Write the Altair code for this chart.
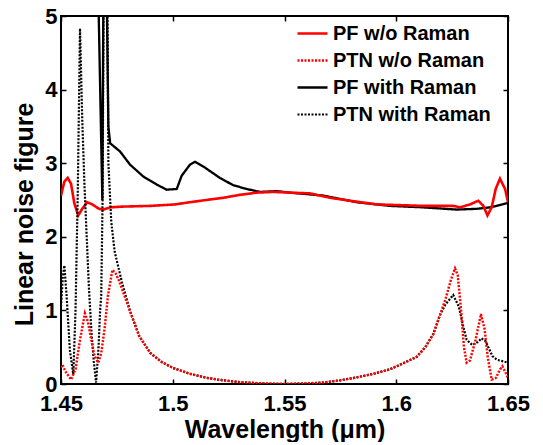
import altair as alt
import pandas as pd

# ---------------- data ----------------
series_names = ["PF w/o Raman", "PTN w/o Raman", "PF with Raman", "PTN with Raman"]

# PF w/o Raman (red solid)
pf_wo_wl = [1.45, 1.4515, 1.453, 1.4545, 1.456, 1.4577, 1.4595, 1.4617, 1.464, 1.467,
            1.4689, 1.472, 1.4772, 1.49, 1.501, 1.5077, 1.515, 1.5226, 1.53, 1.5376,
            1.545, 1.5525, 1.5614, 1.5704, 1.5793, 1.5913, 1.6121, 1.6255, 1.6285, 1.633,
            1.6367, 1.639, 1.6408, 1.6427, 1.6445, 1.6464, 1.6487, 1.65]
pf_wo_nf = [2.56, 2.75, 2.80, 2.72, 2.45, 2.29, 2.38, 2.47, 2.44, 2.38,
            2.37, 2.40, 2.41, 2.42, 2.44, 2.47, 2.50, 2.53, 2.57, 2.60,
            2.61, 2.60, 2.59, 2.53, 2.49, 2.44, 2.42, 2.42, 2.40, 2.44,
            2.49, 2.42, 2.29, 2.40, 2.65, 2.79, 2.65, 2.47]

# PF with Raman (black solid)
pf_with_wl = [1.45, 1.458, 1.4665, 1.4685, 1.469, 1.4705, 1.4712, 1.472, 1.4764, 1.4809,
              1.4868, 1.4928, 1.4973, 1.5018, 1.504, 1.5077, 1.51, 1.5144, 1.5211, 1.5271,
              1.5331, 1.539, 1.5465, 1.5525, 1.5674, 1.5823, 1.5972, 1.6121, 1.627, 1.636,
              1.642, 1.65]
pf_with_nf = [9.0, 10.0, 5.6, 2.5, 5.5, 5.2, 3.5, 3.27, 3.16, 2.98,
              2.82, 2.71, 2.64, 2.65, 2.83, 2.98, 3.02, 2.94, 2.80, 2.70,
              2.65, 2.61, 2.62, 2.60, 2.56, 2.47, 2.42, 2.40, 2.37, 2.38,
              2.40, 2.46]

# common middle part of both PTN curves
ptn_mid_wl = [1.485, 1.49, 1.495, 1.50, 1.5075, 1.515, 1.52, 1.53, 1.54, 1.55,
              1.56, 1.5674, 1.575, 1.5823, 1.59, 1.5972, 1.603, 1.6092, 1.613, 1.6166,
              1.6196]
ptn_mid_nf = [0.65, 0.42, 0.30, 0.22, 0.14, 0.085, 0.06, 0.025, 0.008, 0.0,
              0.008, 0.02, 0.05, 0.09, 0.14, 0.20, 0.28, 0.37, 0.50, 0.68,
              0.94]

# PTN w/o Raman (red dotted)
ptn_wo_head_wl = [1.45, 1.4507, 1.452, 1.4545, 1.4565, 1.4585, 1.4607, 1.462, 1.4637, 1.465,
                  1.4667, 1.468, 1.4695, 1.471, 1.473, 1.4745, 1.476, 1.4772, 1.481]
ptn_wo_head_nf = [0.22, 0.26, 0.17, 0.06, 0.20, 0.60, 0.96, 0.85, 0.58, 0.38,
                  0.29, 0.42, 0.75, 1.20, 1.55, 1.50, 1.40, 1.30, 0.98]
ptn_wo_tail_wl = [1.622, 1.6245, 1.6263, 1.6275, 1.629, 1.6303, 1.6315, 1.633, 1.6355, 1.6379,
                  1.6395, 1.641, 1.6427, 1.6445, 1.6465, 1.6475, 1.649, 1.65]
ptn_wo_tail_nf = [1.15, 1.42, 1.57, 1.48, 1.00, 0.50, 0.29, 0.32, 0.60, 0.95,
                  0.75, 0.35, 0.06, 0.08, 0.20, 0.24, 0.15, 0.08]

# PTN with Raman (black dotted)
ptn_with_head_wl = [1.45, 1.4508, 1.4515, 1.4525, 1.454, 1.4555, 1.4565, 1.4575, 1.4585, 1.4595,
                    1.4605, 1.4615, 1.4625, 1.4637, 1.4647, 1.4657, 1.4668, 1.4675, 1.468, 1.4686,
                    1.4692, 1.470, 1.4706, 1.4712, 1.4725, 1.474, 1.4772, 1.481]
ptn_with_head_nf = [1.05, 1.45, 1.61, 1.20, 0.45, 0.13, 1.0, 2.6, 4.83, 3.6,
                    2.7, 2.0, 1.3, 0.67, 0.30, 0.02, 0.50, 1.00, 1.20, 2.50,
                    6.0, 20.0, 6.0, 3.0, 2.2, 1.8, 1.39, 0.98]
ptn_with_tail_wl = [1.622, 1.6255, 1.628, 1.630, 1.6315, 1.634, 1.6365, 1.6382, 1.640, 1.6415,
                    1.643, 1.645, 1.6475, 1.65]
ptn_with_tail_nf = [1.08, 1.21, 1.05, 0.78, 0.60, 0.53, 0.57, 0.62, 0.58, 0.48,
                    0.38, 0.33, 0.31, 0.29]

x_ticks = [1.45, 1.5, 1.55, 1.6, 1.65]
y_ticks = [0, 1, 2, 3, 4, 5]

# ---------------- table ----------------
curves = [
    ("PF with Raman", pf_with_wl, pf_with_nf),
    ("PF w/o Raman", pf_wo_wl, pf_wo_nf),
    ("PTN with Raman", ptn_with_head_wl + ptn_mid_wl + ptn_with_tail_wl,
     ptn_with_head_nf + ptn_mid_nf + ptn_with_tail_nf),
    ("PTN w/o Raman", ptn_wo_head_wl + ptn_mid_wl + ptn_wo_tail_wl,
     ptn_wo_head_nf + ptn_mid_nf + ptn_wo_tail_nf),
]
rows = []
for name, xs_, ys_ in curves:
    for i, (a, b) in enumerate(zip(xs_, ys_)):
        rows.append({"series": name, "wl": a, "nf": b, "ord": i})
df = pd.DataFrame(rows)

FONT = "Liberation Sans"
xscale = alt.Scale(domain=[1.45, 1.65], nice=False, zero=False)
yscale = alt.Scale(domain=[0, 5], nice=False, zero=False)

common_axis = dict(domain=False, grid=False, offset=-5, tickSize=5, tickWidth=1.5,
                   tickColor="black", labelColor="black", titleColor="black",
                   labelFont=FONT, titleFont=FONT, labelFontWeight="bold",
                   titleFontWeight="bold", labelFlush=False, labelOverlap=False)

legend = alt.Legend(title=None, orient="none", legendX=235, legendY=1,
                    labelFont=FONT, labelFontSize=20, labelFontWeight="bold",
                    labelColor="black", symbolType="stroke", symbolSize=900,
                    symbolStrokeWidth=2, rowPadding=-8, labelOffset=4, padding=0)

lines = alt.Chart(df).mark_line(clip=True).encode(
    x=alt.X("wl:Q", scale=xscale, title="Wavelength (μm)",
            axis=alt.Axis(values=x_ticks, format="~g", orient="bottom",
                          labelFontSize=22, titleFontSize=25, labelPadding=9,
                          titlePadding=3, **common_axis)),
    y=alt.Y("nf:Q", scale=yscale, title="Linear noise figure",
            axis=alt.Axis(values=y_ticks, format="d", orient="left",
                          labelFontSize=22, titleFontSize=25, labelPadding=4,
                          titlePadding=7, titleY=198, **common_axis)),
    color=alt.Color("series:N",
                    scale=alt.Scale(domain=series_names,
                                    range=["#ff0000", "#ff0000", "#000000", "#000000"]),
                    legend=legend),
    strokeDash=alt.StrokeDash("series:N",
                              scale=alt.Scale(domain=series_names,
                                              range=[[1, 0], [2, 1.5], [1, 0], [2, 1.5]]),
                              legend=legend),
    strokeWidth=alt.StrokeWidth("series:N",
                                scale=alt.Scale(domain=series_names, range=[2.6, 2.2, 2.6, 2.2]),
                                legend=None),
    order="ord:Q",
)

ghost = alt.Chart(df).mark_line(opacity=0, clip=True).encode(
    x=alt.X("wl:Q", scale=xscale, title="",
            axis=alt.Axis(values=x_ticks, orient="top", labels=False, **common_axis)),
    y=alt.Y("nf:Q", scale=yscale, title="",
            axis=alt.Axis(values=y_ticks, orient="right", labels=False, **common_axis)),
    detail="series:N",
)

chart = alt.layer(lines, ghost).resolve_axis(x="independent", y="independent").properties(
    width=447, height=368,
    autosize=alt.AutoSizeParams(type="none"),
    padding={"left": 53, "top": 8, "right": 27, "bottom": 58},
    background="white",
).configure_view(stroke="black", strokeWidth=2)

chart.save("out.html", embed_options={"renderer": "svg", "actions": False})
